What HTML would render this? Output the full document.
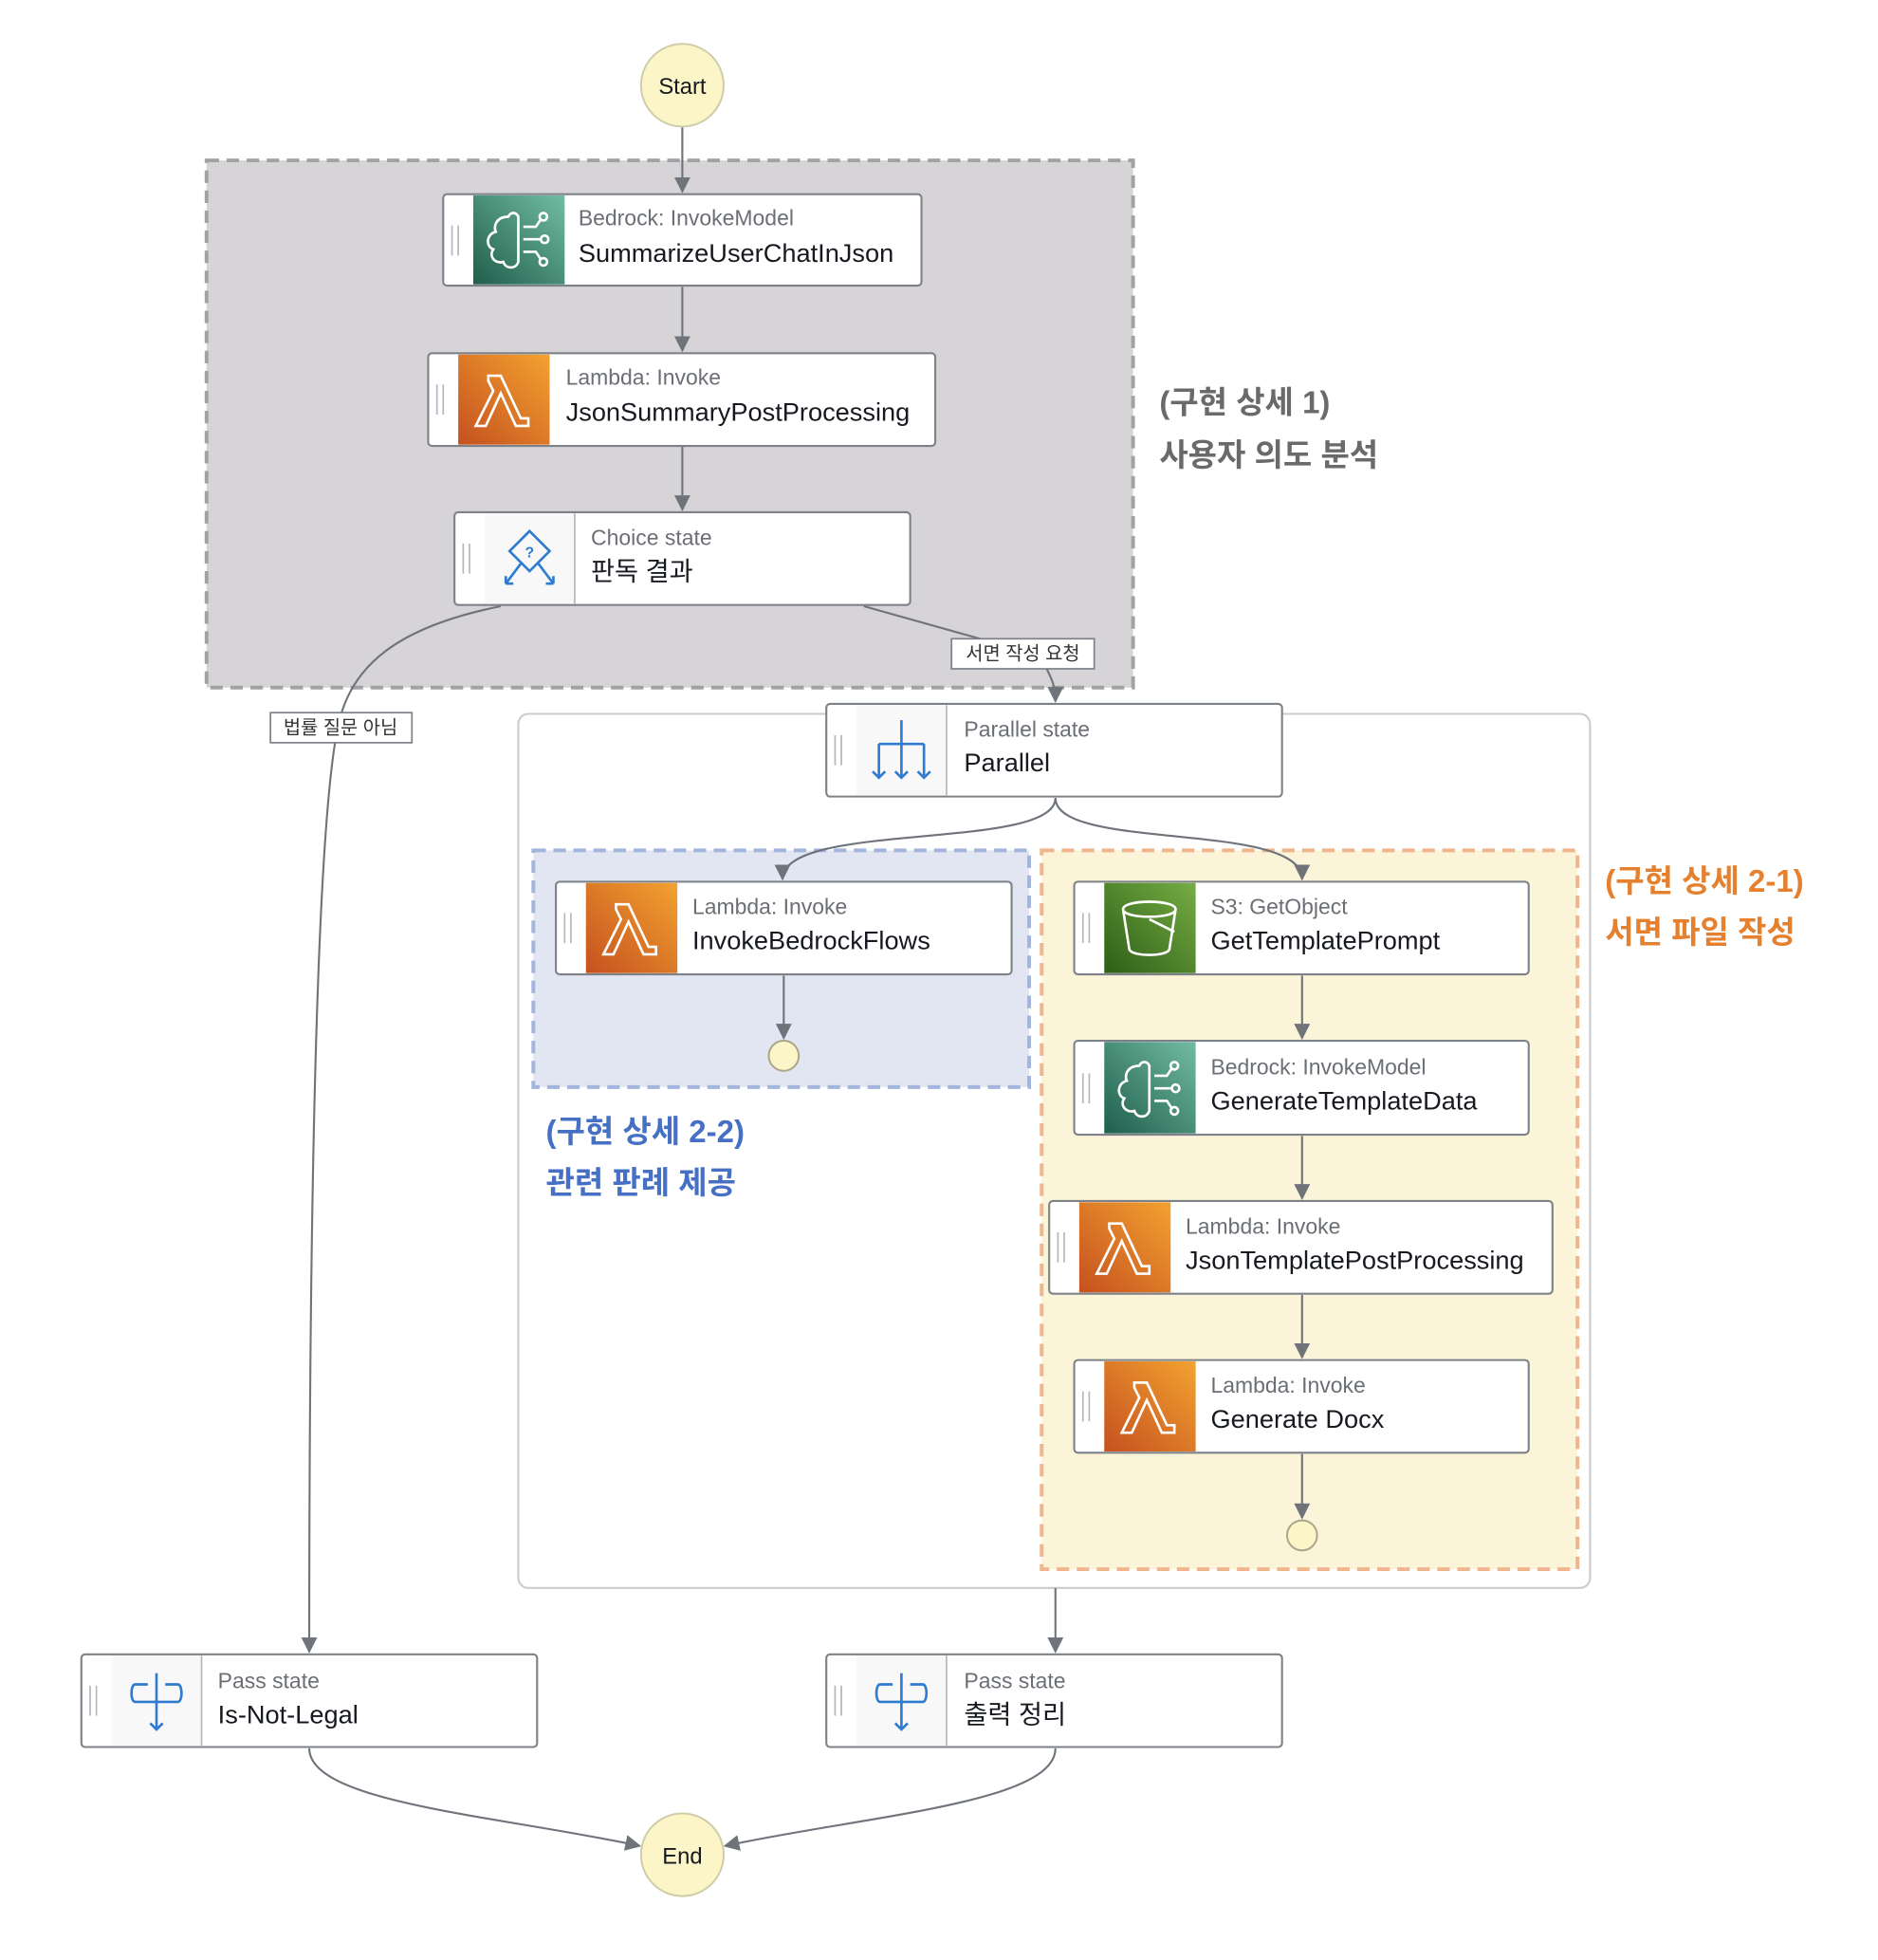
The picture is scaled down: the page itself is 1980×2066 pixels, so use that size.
<!DOCTYPE html>
<html><head><meta charset="utf-8"><style>
html,body{margin:0;padding:0;background:#fff;}
svg{display:block;}
text{font-family:"Liberation Sans","Noto Sans CJK KR",sans-serif;}
.t{font-size:17.4px;fill:#6b6f75;}
.n{font-size:20.6px;fill:#16191f;}
.e{stroke:#6f747b;stroke-width:1.6;fill:none;}
.box{fill:#fff;stroke:#7d8289;stroke-width:1.6;}
.h{stroke:#b5b8bc;stroke-width:1.3;}
.ic{fill:none;stroke:#fff;stroke-width:2;}
.bl{fill:none;stroke:#2e7bcf;stroke-width:2;}
.lb{font-size:15px;fill:#333;}
.an{font-size:25px;font-weight:bold;}
</style></head><body>
<svg width="1980" height="2066" viewBox="0 0 1500 1565" xmlns="http://www.w3.org/2000/svg">
<defs>
<linearGradient id="gt" x1="1" y1="0" x2="0" y2="1"><stop offset="0" stop-color="#72bca3"/><stop offset="1" stop-color="#1f5e4b"/></linearGradient>
<linearGradient id="go" x1="1" y1="0" x2="0" y2="1"><stop offset="0" stop-color="#f3a230"/><stop offset="1" stop-color="#c5511f"/></linearGradient>
<linearGradient id="gg" x1="1" y1="0" x2="0" y2="1"><stop offset="0" stop-color="#76ad44"/><stop offset="1" stop-color="#2d5e16"/></linearGradient>
<marker id="a" viewBox="0 0 10 10" refX="9" refY="5" markerWidth="8" markerHeight="8" orient="auto"><path d="M0,0 L10,5 L0,10 z" fill="#6f747b"/></marker>
<g id="bed"><path class="ic" d="M-8,-18 c-10,0 -12,8 -10,12 c-8,2 -8,12 -2,14 c-4,6 2,12 8,10 c2,6 10,6 12,0 l0,-36 c-2,-4 -6,-4 -8,0 z M4,-10 l10,0 l4,-6 M4,0 l14,0 M4,10 l10,0 l4,6"/><circle class="ic" cx="20" cy="-18" r="3"/><circle class="ic" cx="21" cy="0" r="3"/><circle class="ic" cx="20" cy="18" r="3"/></g>
<g id="lam"><path class="ic" d="M-14,-20 l10,0 l16,34 l6,0 l0,6 l-10,0 l-12,-26 l-12,26 l-8,0 l14,-28 l-4,-8 l0,-4 z"/></g>
</defs>

<rect x="165" y="128" width="740" height="421" fill="#d6d4d6" stroke="#a3a2a3" stroke-width="3" stroke-dasharray="10,6"/>
<rect x="414" y="570" width="856" height="698" rx="8" fill="#fff" stroke="#c9cbcf" stroke-width="1.6"/>
<rect x="426" y="679" width="396" height="189" fill="#e2e6f2" stroke="#a3b5dd" stroke-width="3" stroke-dasharray="10,6"/>
<rect x="832" y="679" width="428" height="574" fill="#fcf4d9" stroke="#efb58c" stroke-width="3" stroke-dasharray="10,6"/>

<path class="e" d="M545,101 V153" marker-end="url(#a)"/>
<path class="e" d="M545,229 V280" marker-end="url(#a)"/>
<path class="e" d="M545,356 V407" marker-end="url(#a)"/>
<path class="e" d="M400,484 C320,500 280,530 270,580 C255,650 247,900 247,1319" marker-end="url(#a)"/>
<path class="e" d="M690,484 L790,512"/>
<path class="e" d="M836,534 C840,542 843,548 843,560" marker-end="url(#a)"/>
<path class="e" d="M843,637 C843,680 625,655 625,702" marker-end="url(#a)"/>
<path class="e" d="M843,637 C843,680 1040,655 1040,702" marker-end="url(#a)"/>
<path class="e" d="M626,779 V829" marker-end="url(#a)"/>
<path class="e" d="M1040,779 V829" marker-end="url(#a)"/>
<path class="e" d="M1040,907 V957" marker-end="url(#a)"/>
<path class="e" d="M1040,1034 V1084" marker-end="url(#a)"/>
<path class="e" d="M1040,1161 V1212" marker-end="url(#a)"/>
<path class="e" d="M843,1268 V1319" marker-end="url(#a)"/>
<path class="e" d="M247,1396 C247,1440 400,1450 511,1474" marker-end="url(#a)"/>
<path class="e" d="M843,1396 C843,1440 690,1450 579,1474" marker-end="url(#a)"/>

<rect x="760" y="510" width="114" height="24" fill="#fff" stroke="#7d8289" stroke-width="1.3"/>
<text class="lb" x="817" y="527" text-anchor="middle">서면 작성 요청</text>
<rect x="216" y="569" width="113" height="24" fill="#fff" stroke="#7d8289" stroke-width="1.3"/>
<text class="lb" x="272" y="586" text-anchor="middle">법률 질문 아님</text>

<circle cx="545" cy="68" r="33" fill="#fcf5c8" stroke="#cfcca8" stroke-width="1.5"/>
<text x="545" y="75" text-anchor="middle" style="font-size:18px;fill:#16191f">Start</text>
<circle cx="545" cy="1481" r="33" fill="#fcf5c8" stroke="#cfcca8" stroke-width="1.5"/>
<text x="545" y="1488" text-anchor="middle" style="font-size:18px;fill:#16191f">End</text>
<circle cx="626" cy="843" r="12" fill="#fcf5c8" stroke="#a9a68a" stroke-width="1.5"/>
<circle cx="1040" cy="1226" r="12" fill="#fcf5c8" stroke="#a9a68a" stroke-width="1.5"/>

<rect class="box" x="354" y="155" width="382" height="73" rx="3"/>
<line class="h" x1="361" y1="180" x2="361" y2="204"/><line class="h" x1="366" y1="180" x2="366" y2="204"/>
<rect x="378" y="156" width="73" height="71" fill="url(#gt)"/>
<use href="#bed" x="414" y="191"/>
<text class="t" x="462" y="180">Bedrock: InvokeModel</text>
<text class="n" x="462" y="209">SummarizeUserChatInJson</text>

<rect class="box" x="342" y="282" width="405" height="74" rx="3"/>
<line class="h" x1="349" y1="307" x2="349" y2="331"/><line class="h" x1="354" y1="307" x2="354" y2="331"/>
<rect x="366" y="283" width="73" height="72" fill="url(#go)"/>
<use href="#lam" x="404" y="320"/>
<text class="t" x="452" y="307">Lambda: Invoke</text>
<text class="n" x="452" y="336">JsonSummaryPostProcessing</text>

<rect class="box" x="363" y="409" width="364" height="74" rx="3"/>
<line class="h" x1="370" y1="434" x2="370" y2="458"/><line class="h" x1="375" y1="434" x2="375" y2="458"/>
<rect x="387" y="410" width="72" height="72" fill="#f8f8f8"/><line class="h" x1="459" y1="410" x2="459" y2="482"/>
<path class="bl" d="M423,424 l16,16 l-16,16 l-16,-16 z M416,450 l-12,16 M430,450 l12,16 M404,466 l0,-6 M404,466 l6,0 M442,466 l0,-6 M442,466 l-6,0"/>
<text x="423" y="445" text-anchor="middle" style="font-size:12px;fill:#2e7bcf;font-weight:bold">?</text>
<text class="t" x="472" y="435">Choice state</text>
<text class="n" x="472" y="463">판독 결과</text>

<rect class="box" x="660" y="562" width="364" height="74" rx="3"/>
<line class="h" x1="667" y1="587" x2="667" y2="611"/><line class="h" x1="672" y1="587" x2="672" y2="611"/>
<rect x="684" y="563" width="72" height="72" fill="#f8f8f8"/><line class="h" x1="756" y1="563" x2="756" y2="635"/>
<path class="bl" d="M720,575 V621 M702,594 H738 M702,594 V621 M738,594 V621 M697,616 l5,5 l5,-5 M715,616 l5,5 l5,-5 M733,616 l5,5 l5,-5"/>
<text class="t" x="770" y="588">Parallel state</text>
<text class="n" x="770" y="616">Parallel</text>

<rect class="box" x="444" y="704" width="364" height="74" rx="3"/>
<line class="h" x1="451" y1="729" x2="451" y2="753"/><line class="h" x1="456" y1="729" x2="456" y2="753"/>
<rect x="468" y="705" width="73" height="72" fill="url(#go)"/>
<use href="#lam" x="506" y="742"/>
<text class="t" x="553" y="730">Lambda: Invoke</text>
<text class="n" x="553" y="758">InvokeBedrockFlows</text>

<rect class="box" x="858" y="704" width="363" height="74" rx="3"/>
<line class="h" x1="865" y1="729" x2="865" y2="753"/><line class="h" x1="870" y1="729" x2="870" y2="753"/>
<rect x="882" y="705" width="73" height="72" fill="url(#gg)"/>
<path class="ic" d="M897,726 c0,-8 42,-8 42,0 c0,8 -42,8 -42,0 l5,32 c2,6 30,6 32,0 l5,-32 M918,734 l20,10"/>
<text class="t" x="967" y="730">S3: GetObject</text>
<text class="n" x="967" y="758">GetTemplatePrompt</text>

<rect class="box" x="858" y="831" width="363" height="75" rx="3"/>
<line class="h" x1="865" y1="857" x2="865" y2="881"/><line class="h" x1="870" y1="857" x2="870" y2="881"/>
<rect x="882" y="832" width="73" height="73" fill="url(#gt)"/>
<use href="#bed" x="918" y="869"/>
<text class="t" x="967" y="858">Bedrock: InvokeModel</text>
<text class="n" x="967" y="886">GenerateTemplateData</text>

<rect class="box" x="838" y="959" width="402" height="74" rx="3"/>
<line class="h" x1="845" y1="984" x2="845" y2="1008"/><line class="h" x1="850" y1="984" x2="850" y2="1008"/>
<rect x="862" y="960" width="73" height="72" fill="url(#go)"/>
<use href="#lam" x="900" y="997"/>
<text class="t" x="947" y="985">Lambda: Invoke</text>
<text class="n" x="947" y="1013">JsonTemplatePostProcessing</text>

<rect class="box" x="858" y="1086" width="363" height="74" rx="3"/>
<line class="h" x1="865" y1="1111" x2="865" y2="1135"/><line class="h" x1="870" y1="1111" x2="870" y2="1135"/>
<rect x="882" y="1087" width="73" height="72" fill="url(#go)"/>
<use href="#lam" x="920" y="1124"/>
<text class="t" x="967" y="1112">Lambda: Invoke</text>
<text class="n" x="967" y="1140">Generate Docx</text>

<rect class="box" x="65" y="1321" width="364" height="74" rx="3"/>
<line class="h" x1="72" y1="1346" x2="72" y2="1370"/><line class="h" x1="77" y1="1346" x2="77" y2="1370"/>
<rect x="89" y="1322" width="72" height="72" fill="#f8f8f8"/><line class="h" x1="161" y1="1322" x2="161" y2="1394"/>
<path class="bl" d="M125,1336 V1381 M120,1376 l5,5 l5,-5 M118,1345 h-10 c-4,0 -4,14 0,14 h34 c4,0 4,-14 0,-14 h-10"/>
<text class="t" x="174" y="1348">Pass state</text>
<text class="n" x="174" y="1376">Is-Not-Legal</text>

<rect class="box" x="660" y="1321" width="364" height="74" rx="3"/>
<line class="h" x1="667" y1="1346" x2="667" y2="1370"/><line class="h" x1="672" y1="1346" x2="672" y2="1370"/>
<rect x="684" y="1322" width="72" height="72" fill="#f8f8f8"/><line class="h" x1="756" y1="1322" x2="756" y2="1394"/>
<path class="bl" d="M720,1336 V1381 M715,1376 l5,5 l5,-5 M713,1345 h-10 c-4,0 -4,14 0,14 h34 c4,0 4,-14 0,-14 h-10"/>
<text class="t" x="770" y="1348">Pass state</text>
<text class="n" x="770" y="1376">출력 정리</text>

<text class="an" x="926" y="330" fill="#6a6a6a">(구현 상세 1)</text>
<text class="an" x="926" y="372" fill="#6a6a6a">사용자 의도 분석</text>
<text class="an" x="1282" y="712" fill="#e5812e">(구현 상세 2-1)</text>
<text class="an" x="1282" y="753" fill="#e5812e">서면 파일 작성</text>
<text class="an" x="436" y="912" fill="#4670c4">(구현 상세 2-2)</text>
<text class="an" x="436" y="953" fill="#4670c4">관련 판례 제공</text>
</svg>
</body></html>
